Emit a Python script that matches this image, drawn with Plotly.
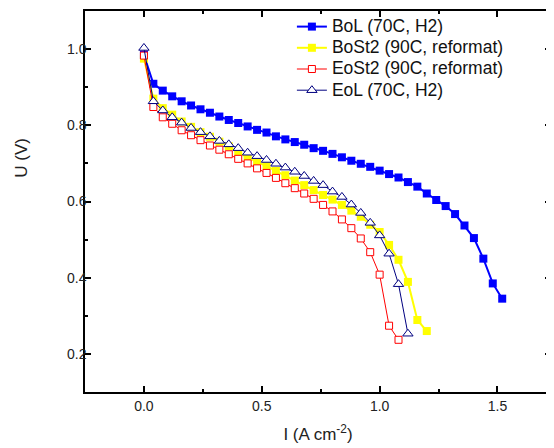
import plotly.graph_objects as go

# --- Data ---
current = [0.00, 0.04, 0.08, 0.12, 0.16, 0.20, 0.24, 0.28, 0.32, 0.36,
           0.40, 0.44, 0.48, 0.52, 0.56, 0.60, 0.64, 0.68, 0.72, 0.76,
           0.80, 0.84, 0.88, 0.92, 0.96, 1.00, 1.04, 1.08, 1.12, 1.16,
           1.20, 1.24, 1.28, 1.32, 1.36, 1.40, 1.44, 1.48, 1.52]

u_bol = [0.985, 0.909, 0.891, 0.876, 0.863, 0.852, 0.842, 0.833, 0.823, 0.814,
         0.806, 0.797, 0.788, 0.781, 0.771, 0.763, 0.756, 0.749, 0.740, 0.733,
         0.725, 0.716, 0.707, 0.699, 0.691, 0.681, 0.672, 0.663, 0.651, 0.639,
         0.621, 0.604, 0.588, 0.567, 0.537, 0.504, 0.450, 0.385, 0.345]

u_bost2 = [0.975, 0.870, 0.845, 0.828, 0.810, 0.796, 0.782, 0.770, 0.757, 0.745,
           0.728, 0.715, 0.704, 0.693, 0.680, 0.669, 0.655, 0.643, 0.630, 0.617,
           0.605, 0.591, 0.576, 0.560, 0.539, 0.520, 0.486, 0.447, 0.389, 0.289,
           0.260]

u_eost2 = [0.983, 0.848, 0.821, 0.804, 0.787, 0.774, 0.761, 0.747, 0.736, 0.724,
           0.712, 0.700, 0.687, 0.675, 0.662, 0.648, 0.635, 0.621, 0.607, 0.591,
           0.574, 0.553, 0.530, 0.503, 0.467, 0.408, 0.274, 0.237]

u_eol = [1.003, 0.863, 0.839, 0.821, 0.807, 0.793, 0.782, 0.771, 0.759, 0.750,
         0.740, 0.728, 0.719, 0.709, 0.699, 0.689, 0.678, 0.667, 0.654, 0.643,
         0.626, 0.612, 0.592, 0.570, 0.544, 0.511, 0.463, 0.383, 0.253]

x_ticks = [0.0, 0.5, 1.0, 1.5]
y_ticks = [0.2, 0.4, 0.6, 0.8, 1.0]

FONT = "Arial, Liberation Sans, sans-serif"

series = [
    ("BoL (70C, H2)", u_bol, "#0000FF", 2, dict(symbol="square", size=8, color="#0000FF")),
    ("BoSt2 (90C, reformat)", u_bost2, "#FFFF00", 2, dict(symbol="square", size=8, color="#FFFF00")),
    ("EoSt2 (90C, reformat)", u_eost2, "#FF0000", 1,
     dict(symbol="square", size=7, color="white", line=dict(color="#FF0000", width=1))),
    ("EoL (70C, H2)", u_eol, "#000080", 1,
     dict(symbol="triangle-up", size=9, color="white", line=dict(color="#000080", width=1))),
]

fig = go.Figure()
for name, u, col, lw, mk in series:
    fig.add_trace(go.Scatter(
        x=current[:len(u)], y=u, mode="lines+markers",
        # bigger text than the legend font keeps the rows tight like the original
        name='<span style="font-size:17.5px">%s</span>' % name,
        line=dict(color=col, width=lw), marker=mk,
    ))

axis_common = dict(
    showline=True, linecolor="black", linewidth=1.5, mirror="ticks",
    ticks="inside", ticklen=6, tickwidth=1.5, tickcolor="black",
    showgrid=False, zeroline=False,
    tickfont=dict(family=FONT, size=14, color="#222"),
)

fig.update_xaxes(
    range=[-0.25, 1.727], tickvals=x_ticks, tickformat=".1f",
    minor=dict(dtick=0.25, ticks="inside", ticklen=3, tickwidth=1.5, tickcolor="black"),
    title=dict(text="I (A cm<sup>-2</sup>)", font=dict(family=FONT, size=17, color="#222"), standoff=16),
    **axis_common,
)
fig.update_yaxes(
    range=[0.1, 1.1], tickvals=y_ticks, tickformat=".1f", ticklabelstandoff=-6,
    minor=dict(dtick=0.1, ticks="inside", ticklen=3, tickwidth=1.5, tickcolor="black"),
    **axis_common,
)

# y title placed as annotation to sit where the original has it
fig.add_annotation(
    text="U (V)", textangle=-90, xref="paper", yref="paper",
    x=-0.135, y=0.615, showarrow=False, xanchor="center", yanchor="middle",
    font=dict(family=FONT, size=17, color="#222"),
)

# the page body adds an 8px margin, so the figure is 8px smaller and margins shifted
fig.update_layout(
    width=546, height=440,
    margin=dict(l=77, r=1, t=2, b=56),
    paper_bgcolor="white", plot_bgcolor="white",
    showlegend=True,
    legend=dict(
        x=0.444, y=1.0, xanchor="left", yanchor="top",
        bgcolor="rgba(0,0,0,0)", borderwidth=0,
        font=dict(family=FONT, size=14, color="#111"),
        tracegroupgap=0, itemwidth=30,
    ),
)

fig.write_html("out.html")
